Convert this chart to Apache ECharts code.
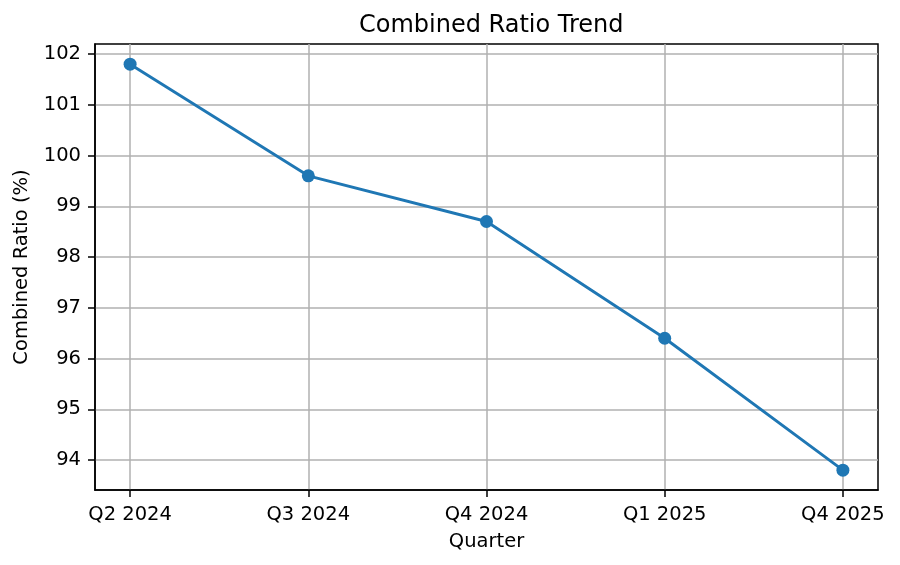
<!DOCTYPE html>
<html>
<head>
<meta charset="utf-8">
<script src="https://cdn.jsdelivr.net/npm/echarts@6/dist/echarts.min.js"></script>
<style>html,body{margin:0;padding:0;background:#fff}#c{width:900px;height:565px}</style>
</head>
<body>
<div id="c"></div>
<script>
var categories = ['Q2 2024', 'Q3 2024', 'Q4 2024', 'Q1 2025', 'Q4 2025'];
var combinedRatio = [101.8, 99.6, 98.7, 96.4, 93.8];
var yTicks = [94, 95, 96, 97, 98, 99, 100, 101, 102];

var xTicks = categories.map(function (c, i) { return i; });
var seriesData = combinedRatio.map(function (v, i) { return [i, v]; });
var font = 'DejaVu Sans';

var chart = echarts.init(document.getElementById('c'));
chart.setOption({
  animation: false,
  backgroundColor: '#fff',
  title: {
    text: 'Combined Ratio Trend',
    left: 354, top: 9,
    textStyle: { fontFamily: font, fontSize: 24, fontWeight: 'normal', color: '#000' }
  },
  grid: { left: 95, right: 22, top: 44, bottom: 75, show: true, borderColor: '#000', borderWidth: 1.5, backgroundColor: 'transparent' },
  xAxis: {
    type: 'value',
    min: -0.197, max: 4.197,
    name: 'Quarter', nameLocation: 'middle', nameGap: 42,
    nameTextStyle: { fontFamily: font, fontSize: 19.5, color: '#000' },
    axisLine: { show: true, onZero: false, lineStyle: { color: '#000', width: 1.5 } },
    axisTick: { show: true, length: 7, customValues: xTicks, lineStyle: { color: '#000', width: 1.5 } },
    axisLabel: {
      customValues: xTicks, margin: 15,
      fontFamily: font, fontSize: 19.5, color: '#000',
      formatter: function (v) { return categories[Math.round(v)]; }
    },
    splitLine: { show: true, lineStyle: { color: '#b0b0b0', width: 1.5 } }
  },
  yAxis: {
    type: 'value',
    min: 93.41, max: 102.197,
    name: 'Combined Ratio (%)', nameLocation: 'middle', nameGap: 63, nameRotate: 90,
    nameTextStyle: { fontFamily: font, fontSize: 19.5, color: '#000' },
    axisLine: { show: true, onZero: false, lineStyle: { color: '#000', width: 1.5 } },
    axisTick: { show: true, length: 7, customValues: yTicks, lineStyle: { color: '#000', width: 1.5 } },
    axisLabel: { customValues: yTicks, margin: 14, fontFamily: font, fontSize: 19.5, color: '#000' },
    splitLine: { show: true, lineStyle: { color: '#b0b0b0', width: 1.5 } }
  },
  series: [{
    type: 'line',
    data: seriesData,
    symbol: 'circle', symbolSize: 13,
    itemStyle: { color: '#1f77b4' },
    lineStyle: { color: '#1f77b4', width: 2.9 }
  }]
});
</script>
</body>
</html>
